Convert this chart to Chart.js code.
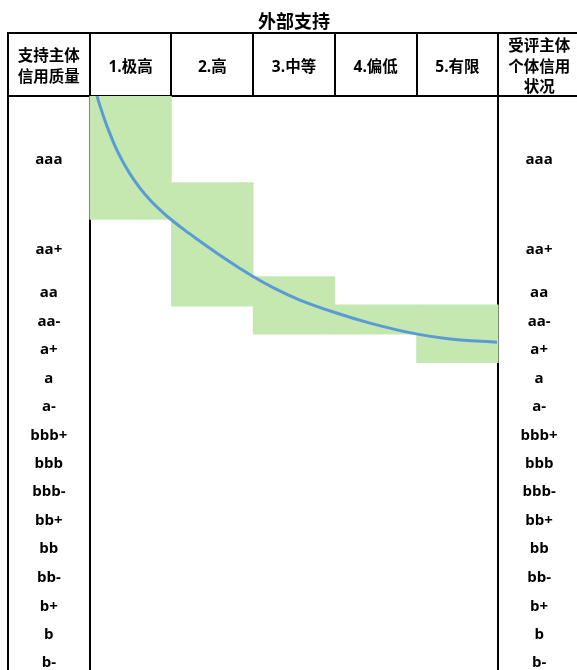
<!DOCTYPE html>
<html><head><meta charset="utf-8">
<script src="https://cdn.jsdelivr.net/npm/chart.js@4"></script>
<style>html,body{margin:0;padding:0;overflow:hidden;background:#fff}#wrap{width:580px;height:670px}</style>
</head><body><div id="wrap"><canvas id="c"></canvas></div>
<script>
// ---- data ----
const chartTitle = '外部支持';
const headerLabels = [['支持主体','信用质量'],'1.极高','2.高','3.中等','4.偏低','5.有限',['受评主体','个体信用','状况']];
const ratings = ['aaa','aa+','aa','aa-','a+','a','a-','bbb+','bbb','bbb-','bb+','bb','bb-','b+','b','b-'];
const ratingPos = [2.22,5.41,6.92,7.92,8.92,9.91,10.91,11.91,12.9,13.9,14.9,15.9,16.9,17.92,18.9,19.87];
const supportStart = [null,0,3.04,6.34,7.33,7.33,null];
const supportEnd   = [null,4.33,7.37,8.36,8.36,9.36,null];
const curveX = [0.089,0.126,0.175,0.236,0.309,0.395,0.493,0.615,0.750,0.897,0.995,1.166,1.350,1.594,1.839,1.998,2.268,2.573,2.990,3.430,3.993,4.409,4.984];
const curveY = [0.0,0.347,0.768,1.242,1.747,2.251,2.733,3.232,3.684,4.091,4.333,4.716,5.095,5.586,6.049,6.333,6.758,7.161,7.589,7.968,8.347,8.526,8.642];

// ---- fonts ----
const FAM = '"Open Sans", "Noto Sans CJK SC", sans-serif';
const RSIZE = 15;
const mctx = document.createElement('canvas').getContext('2d');
mctx.font = 'bold ' + RSIZE + 'px ' + FAM;
const widest = Math.max(...ratings.map(r => mctx.measureText(r).width));
const CW = 572 / 7;
const leftCenter = CW * 0.5;
const rightCenter = CW * 6.5;

function ratingTicks(scale){ scale.ticks = ratingPos.map(v => ({value: v})); }
function noPad(s){ s.paddingTop = 0; s.paddingBottom = 0; s.paddingLeft = 0; s.paddingRight = 0; }
const yCommon = (pad) => ({
  type: 'linear', position: 'left', reverse: true, min: 0, max: 20.14,
  grid: {display: false, drawTicks: false}, border: {display: false},
  afterBuildTicks: ratingTicks,
  afterFit: (s) => { s.width = 0; noPad(s); },
  ticks: {mirror: true, crossAlign: 'center', padding: pad, autoSkip: false,
    color: '#000', font: {family: FAM, size: RSIZE, weight: 'bold'},
    callback: (v, i) => ratings[i]}
});

const boundary = [0,1,6,7];
new Chart(document.getElementById('c'), {
  type: 'bar',
  data: {
    labels: headerLabels,
    datasets: [
      {type: 'line', label: 'curve', xAxisID: 'xl', yAxisID: 'yL',
       data: curveX.map((x, i) => ({x: x, y: curveY[i]})),
       borderColor: '#5B9BD5', borderWidth: 3, pointRadius: 0,
       cubicInterpolationMode: 'monotone', fill: false, order: 0},
      {type: 'bar', label: 'support', xAxisID: 'x', yAxisID: 'yL', grouped: false,
       data: supportStart.map((s, i) => s === null ? null : [s, supportEnd[i]]),
       backgroundColor: 'rgb(197,231,176)', borderWidth: 0,
       barPercentage: 1, categoryPercentage: 1, order: 1}
    ]
  },
  options: {
    responsive: true, maintainAspectRatio: false, animation: false,
    layout: {padding: {left: 8, right: 0, top: 0, bottom: 0}},
    plugins: {
      legend: {display: false}, tooltip: {enabled: false},
      title: {display: true, text: chartTitle, color: '#000',
        font: {family: '"Noto Sans CJK SC", sans-serif', size: 18, weight: 'bold', lineHeight: 1.2},
        padding: {top: 10, bottom: 1.4}}
    },
    scales: {
      x: {type: 'category', position: 'top', offset: true, weight: 0, z: 1,
        grid: {offset: true, drawOnChartArea: true, drawTicks: true, tickLength: 63,
          lineWidth: 2, tickWidth: 2, tickColor: '#000',
          color: (c) => boundary.includes(c.index) ? '#000' : 'rgba(0,0,0,0)'},
        border: {display: true, color: '#000', width: 2},
        afterFit: (s) => { s.height = 63; noPad(s); },
        ticks: {maxRotation: 0, minRotation: 0, autoSkip: false, crossAlign: 'center', padding: -55,
          color: '#000', font: {family: FAM, size: 15.5, weight: 'bold', lineHeight: 1.33}}
      },
      x2: {type: 'linear', position: 'top', weight: 1, min: 0, max: 1,
        grid: {display: false, drawTicks: false}, ticks: {display: false},
        border: {display: true, color: '#000', width: 2},
        afterFit: (s) => { s.height = 0; noPad(s); }
      },
      xl: {type: 'linear', display: false, offset: false, min: -1, max: 6},
      yL: yCommon(leftCenter - widest / 2),
      yR: yCommon(rightCenter - widest / 2)
    }
  }
});
</script>
</body></html>
